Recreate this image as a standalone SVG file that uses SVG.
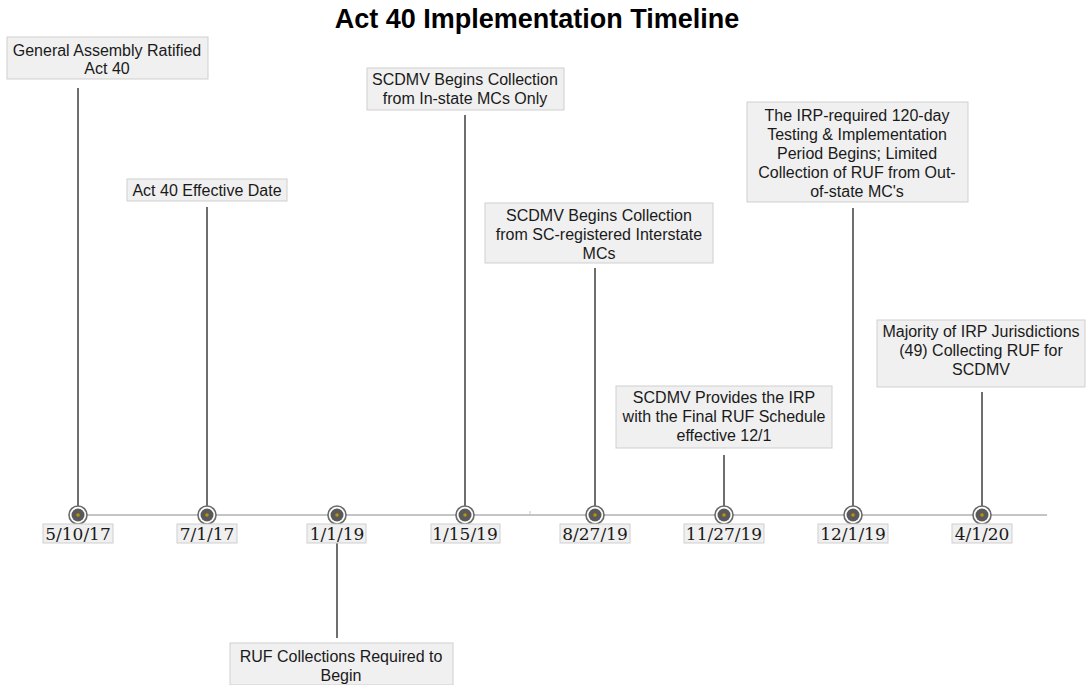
<svg xmlns="http://www.w3.org/2000/svg" width="1086" height="685" viewBox="0 0 1086 685">
<style>
.lbl{fill:#f0f0f0;stroke:#cfcfcf;stroke-width:1}
.t{font-family:"Liberation Sans",Arial,sans-serif;font-size:16px;fill:#1a1a1a;text-anchor:middle}
.d{font-family:"DejaVu Serif",serif;font-size:17px;fill:#1a1a1a;text-anchor:middle}
.stem{stroke:#6e6e6e;stroke-width:2}
.ring{fill:#fff;stroke:#6a6a6a;stroke-width:1.6}
.core{fill:#595959}
.dot{fill:#b8920a}
</style>
<defs>
<g id="mk">
<circle class="ring" r="9"/>
<circle class="core" r="6.5"/>
<circle class="dot" r="1.8"/>
</g>
</defs>
<rect width="1086" height="685" fill="#fff"/>
<text x="537" y="28" font-family="Liberation Sans,Arial,sans-serif" font-size="27" font-weight="bold" text-anchor="middle" fill="#000">Act 40 Implementation Timeline</text>
<g id="connectors">
<line x1="78" y1="515" x2="1047" y2="515" stroke="#c4c4c4" stroke-width="2"/>
<line x1="530" y1="511" x2="530" y2="515" stroke="#c4c4c4" stroke-width="1"/>
<line class="stem" x1="78" y1="88" x2="78" y2="507"/>
<line class="stem" x1="207" y1="207" x2="207" y2="507"/>
<line class="stem" x1="337" y1="525" x2="337" y2="638"/>
<line class="stem" x1="465" y1="115" x2="465" y2="507"/>
<line class="stem" x1="595" y1="268" x2="595" y2="507"/>
<line class="stem" x1="724" y1="455" x2="724" y2="507"/>
<line class="stem" x1="853" y1="208" x2="853" y2="507"/>
<line class="stem" x1="982" y1="392" x2="982" y2="507"/>
</g>
<g id="n1">
<rect class="lbl" x="7" y="37" width="201" height="42"/>
<text class="t" x="107" y="56">General Assembly Ratified</text>
<text class="t" x="107" y="74">Act 40</text>
<use href="#mk" x="78" y="515"/>
<rect class="lbl" x="43" y="524" width="70" height="19"/>
<text class="d" x="78" y="540">5/10/17</text>
</g>
<g id="n2">
<rect class="lbl" x="127" y="179" width="160" height="22"/>
<text class="t" x="207" y="196">Act 40 Effective Date</text>
<use href="#mk" x="207" y="515"/>
<rect class="lbl" x="177" y="524" width="60" height="19"/>
<text class="d" x="207" y="540">7/1/17</text>
</g>
<g id="n3">
<rect class="lbl" x="230" y="643" width="223" height="42"/>
<text class="t" x="341" y="662">RUF Collections Required to</text>
<text class="t" x="341" y="681">Begin</text>
<use href="#mk" x="337" y="515"/>
<rect class="lbl" x="307" y="524" width="59" height="19"/>
<text class="d" x="337" y="540">1/1/19</text>
</g>
<g id="n4">
<rect class="lbl" x="367" y="68" width="197" height="42"/>
<text class="t" x="465" y="85">SCDMV Begins Collection</text>
<text class="t" x="465" y="104">from In-state MCs Only</text>
<use href="#mk" x="465" y="515"/>
<rect class="lbl" x="431" y="524" width="69" height="19"/>
<text class="d" x="465" y="540">1/15/19</text>
</g>
<g id="n5">
<rect class="lbl" x="485" y="203" width="228" height="60"/>
<text class="t" x="599" y="221">SCDMV Begins Collection</text>
<text class="t" x="599" y="240">from SC-registered Interstate</text>
<text class="t" x="599" y="259">MCs</text>
<use href="#mk" x="595" y="515"/>
<rect class="lbl" x="560" y="524" width="70" height="19"/>
<text class="d" x="595" y="540">8/27/19</text>
</g>
<g id="n6">
<rect class="lbl" x="616" y="386" width="216" height="62"/>
<text class="t" x="724" y="403">SCDMV Provides the IRP</text>
<text class="t" x="724" y="422">with the Final RUF Schedule</text>
<text class="t" x="724" y="441">effective 12/1</text>
<use href="#mk" x="724" y="515"/>
<rect class="lbl" x="684" y="524" width="80" height="19"/>
<text class="d" x="724" y="540">11/27/19</text>
</g>
<g id="n7">
<rect class="lbl" x="747" y="102" width="221" height="100"/>
<text class="t" x="857" y="121">The IRP-required 120-day</text>
<text class="t" x="857" y="140">Testing &amp; Implementation</text>
<text class="t" x="857" y="159">Period Begins; Limited</text>
<text class="t" x="857" y="178">Collection of RUF from Out-</text>
<text class="t" x="857" y="197">of-state MC's</text>
<use href="#mk" x="853" y="515"/>
<rect class="lbl" x="818" y="524" width="70" height="19"/>
<text class="d" x="853" y="540">12/1/19</text>
</g>
<g id="n8">
<rect class="lbl" x="877" y="320" width="208" height="67"/>
<text class="t" x="981" y="337">Majority of IRP Jurisdictions</text>
<text class="t" x="981" y="356">(49) Collecting RUF for</text>
<text class="t" x="981" y="375">SCDMV</text>
<use href="#mk" x="982" y="515"/>
<rect class="lbl" x="952" y="524" width="60" height="19"/>
<text class="d" x="982" y="540">4/1/20</text>
</g>
</svg>
